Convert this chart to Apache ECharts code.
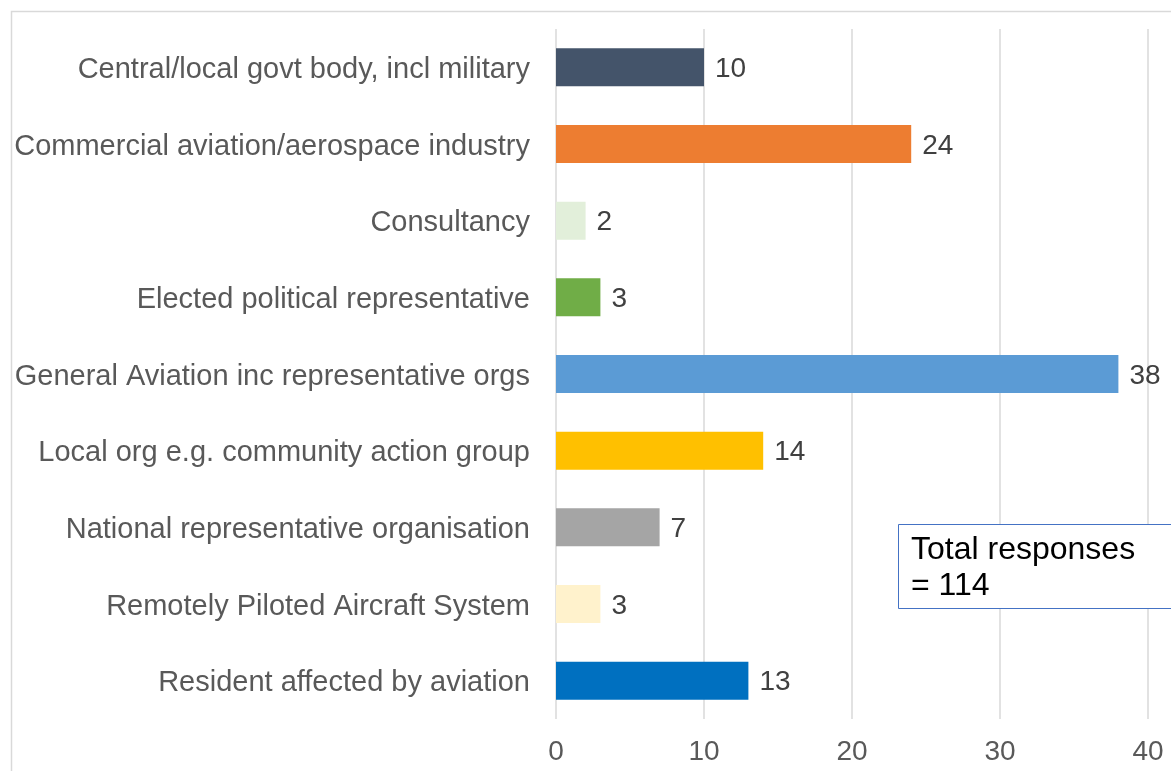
<!DOCTYPE html>
<html>
<head>
<meta charset="utf-8">
<style>html,body{margin:0;padding:0;background:#fff;}#c{width:1171px;height:771px;}</style>
<script src="https://cdn.jsdelivr.net/npm/echarts@6/dist/echarts.min.js"></script>
</head>
<body>
<div id="c"></div>
<script>
const categories = [
  "Central/local govt body, incl military",
  "Commercial aviation/aerospace industry",
  "Consultancy",
  "Elected political representative",
  "General Aviation inc representative orgs",
  "Local org e.g. community action group",
  "National representative organisation",
  "Remotely Piloted Aircraft System",
  "Resident affected by aviation"
];
const values = [10, 24, 2, 3, 38, 14, 7, 3, 13];
const barColors = ["#44546a", "#ed7d31", "#e2efda", "#70ad47", "#5b9bd5", "#ffc000", "#a5a5a5", "#fff2cc", "#0070c0"];
const xTicks = [0, 10, 20, 30, 40];
const noteLines = ["Total responses", "= 114"];

const chart = echarts.init(document.getElementById('c'), null, {renderer: 'canvas'});
const font = "Liberation Sans, Arial, sans-serif";
chart.setOption({
  animation: false,
  backgroundColor: '#fff',
  grid: {left: 556, right: 23, top: 29, bottom: 52, containLabel: false},
  xAxis: {
    type: 'value', min: xTicks[0], max: xTicks[xTicks.length - 1], interval: 10,
    axisLine: {show: false}, axisTick: {show: false},
    splitLine: {show: true, lineStyle: {color: '#d9d9d9', width: 1.5}},
    axisLabel: {color: '#595959', fontSize: 28, fontFamily: font, margin: 19, showMaxLabel: true}
  },
  yAxis: {
    type: 'category', data: categories, inverse: true,
    axisLine: {show: false}, axisTick: {show: false},
    axisLabel: {
      margin: 26,
      formatter: v => '{a|' + v + '}',
      rich: {a: {color: '#595959', fontSize: 29, fontFamily: font, padding: [5, 0, 0, 0]}}
    }
  },
  series: [{
    type: 'bar', barWidth: 38,
    data: values.map((v, i) => ({value: v, itemStyle: {color: barColors[i]}})),
    label: {show: true, position: 'right', distance: 11, color: '#404040', fontSize: 28, fontFamily: font, offset: [0, 2]}
  }],
  graphic: [
    {type: 'rect', shape: {x: 11.5, y: 11.5, width: 1200, height: 800}, style: {fill: 'none', stroke: '#d9d9d9', lineWidth: 1.5}, z: -1},
    {type: 'rect', shape: {x: 898.5, y: 524.5, width: 300, height: 84}, style: {fill: '#fff', stroke: '#4472c4', lineWidth: 1}, z: 10},
    {type: 'text', x: 911, y: 532, style: {text: noteLines.join('\n'), fill: '#000', fontSize: 32, fontFamily: font, lineHeight: 36}, z: 11}
  ]
});
</script>
</body>
</html>
